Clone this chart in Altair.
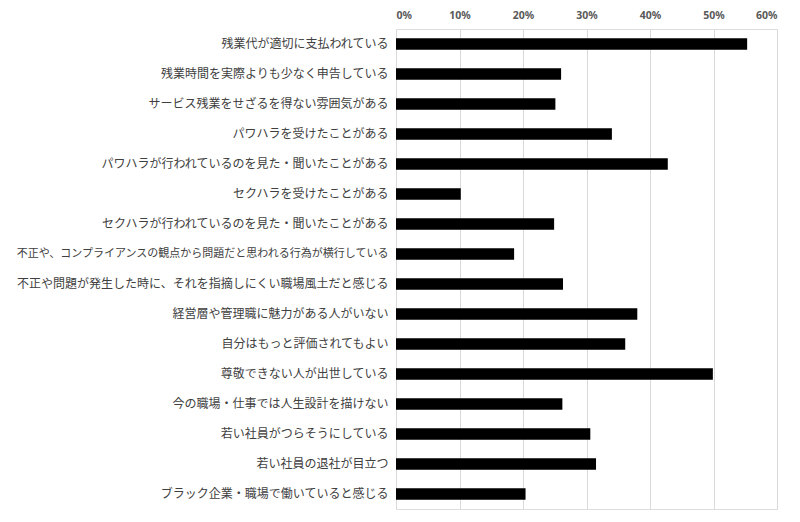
import altair as alt
import pandas as pd

labels = [
    "残業代が適切に支払われている",
    "残業時間を実際よりも少なく申告している",
    "サービス残業をせざるを得ない雰囲気がある",
    "パワハラを受けたことがある",
    "パワハラが行われているのを見た・聞いたことがある",
    "セクハラを受けたことがある",
    "セクハラが行われているのを見た・聞いたことがある",
    "不正や、コンプライアンスの観点から問題だと思われる行為が横行している",
    "不正や問題が発生した時に、それを指摘しにくい職場風土だと感じる",
    "経営層や管理職に魅力がある人がいない",
    "自分はもっと評価されてもよい",
    "尊敬できない人が出世している",
    "今の職場・仕事では人生設計を描けない",
    "若い社員がつらそうにしている",
    "若い社員の退社が目立つ",
    "ブラック企業・職場で働いていると感じる",
]
values = [0.553, 0.260, 0.251, 0.340, 0.428, 0.102, 0.249, 0.186,
          0.263, 0.380, 0.361, 0.499, 0.262, 0.306, 0.315, 0.204]
x_ticks = [0.0, 0.1, 0.2, 0.3, 0.4, 0.5, 0.6]

df = pd.DataFrame({"item": labels, "value": values})

chart = alt.Chart(df).mark_bar(color="#000000").encode(
    x=alt.X(
        "value:Q",
        scale=alt.Scale(domain=[0, 0.6], nice=False),
        axis=alt.Axis(
            orient="top",
            values=x_ticks,
            format=".0%",
            title=None,
            ticks=False,
            domain=False,
            grid=True,
            gridColor="#d9d9d9",
            gridWidth=1,
            labelFont="Noto Sans",
            labelFontSize=10.5,
            labelFontWeight="bold",
            labelColor="#595959",
            labelPadding=9,
        ),
    ),
    y=alt.Y(
        "item:N",
        sort=labels,
        scale=alt.Scale(paddingInner=0.62, paddingOuter=0.31),
        axis=alt.Axis(
            title=None,
            ticks=False,
            domain=False,
            grid=False,
            labelFont="Noto Sans CJK JP",
            labelFontSize={"condition": {"test": "length(datum.label) > 32", "value": 11}, "value": 12},
            labelColor="#404040",
            labelPadding=8,
            labelLimit=400,
        ),
    ),
).properties(
    width=381,
    height=480,
    autosize=alt.AutoSizeParams(type="none"),
    padding={"left": 388, "top": 21, "right": 15, "bottom": 5},
).configure_view(stroke=None).configure(background="#ffffff")

chart.save("out.html", embed_options={"renderer": "svg", "actions": False})
